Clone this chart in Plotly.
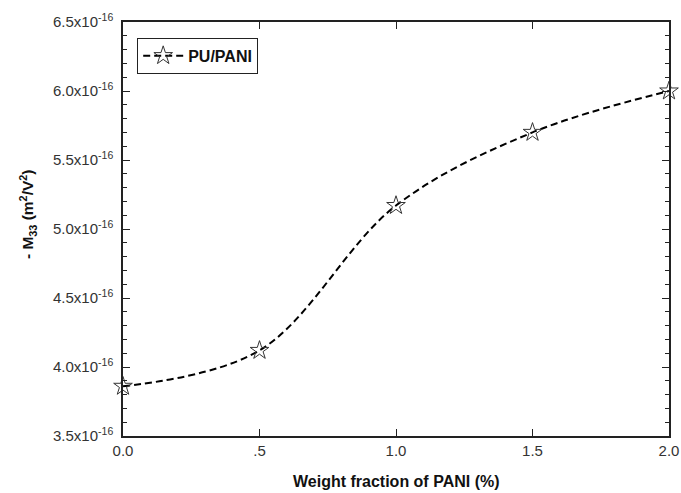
import plotly.graph_objects as go

weight_fraction = [0.0, 0.5, 1.0, 1.5, 2.0]
m33 = [3.86e-16, 4.12e-16, 5.17e-16, 5.70e-16, 6.00e-16]

y_tickvals = [3.5e-16, 4.0e-16, 4.5e-16, 5.0e-16, 5.5e-16, 6.0e-16, 6.5e-16]
y_ticktext = ["3.5x10<sup>-16</sup>", "4.0x10<sup>-16</sup>", "4.5x10<sup>-16</sup>",
              "5.0x10<sup>-16</sup>", "5.5x10<sup>-16</sup>", "6.0x10<sup>-16</sup>",
              "6.5x10<sup>-16</sup>"]
x_tickvals = [0.0, 0.5, 1.0, 1.5, 2.0]
x_ticktext = ["0.0", ".5", "1.0", "1.5", "2.0"]

fig = go.Figure()
fig.add_trace(go.Scatter(
    x=weight_fraction, y=m33, mode="lines+markers", name="<b>PU/PANI</b>",
    line=dict(color="black", width=2, dash="7px,4px", shape="spline", smoothing=1.0),
    marker=dict(symbol="star-open", size=14, color="#333333", line=dict(width=1)),
    cliponaxis=False,
))

font_family = "Liberation Sans, Arial, sans-serif"
fig.update_layout(
    width=681, height=493,
    margin=dict(l=123, r=12, t=22, b=57),
    paper_bgcolor="white", plot_bgcolor="white",
    font=dict(family=font_family, size=14, color="#222222"),
    showlegend=True,
    legend=dict(x=0.026, y=0.962, xanchor="left", yanchor="top",
                bordercolor="#222222", borderwidth=1, bgcolor="white",
                itemwidth=40, tracegroupgap=0,
                font=dict(size=16, color="#111111")),
    xaxis=dict(
        range=[0, 2.0], tickvals=x_tickvals, ticktext=x_ticktext,
        ticks="inside", ticklen=7, tickwidth=1, tickcolor="#222222",
        showline=True, linecolor="#222222", linewidth=1.5, mirror="allticks",
        showgrid=False, zeroline=False, automargin=False,
        tickfont=dict(size=15, color="#333333"),
    ),
    yaxis=dict(
        range=[3.5e-16, 6.5e-16], tickvals=y_tickvals, ticktext=y_ticktext,
        ticks="inside", ticklen=7, tickwidth=1, tickcolor="#222222",
        minor=dict(ticks="inside", ticklen=4, dtick=0.1e-16, tick0=3.5e-16,
                   tickcolor="#222222", showgrid=False),
        showline=True, linecolor="#222222", linewidth=1.5, mirror="allticks",
        showgrid=False, zeroline=False, automargin=False,
        ticklabelstandoff=5,
        tickfont=dict(size=15, color="#333333"),
    ),
    annotations=[
        dict(text="<b>Weight fraction of PANI (%)</b>", xref="paper", yref="paper",
             x=0.5, y=-0.109, xanchor="center", yanchor="middle", showarrow=False,
             font=dict(size=16, color="#111111")),
        dict(text="<b>- M<sub>33</sub> (m<sup>2</sup>/V<sup>2</sup>)</b>", xref="paper", yref="paper",
             x=-0.174, y=0.536, xanchor="center", yanchor="middle", showarrow=False,
             textangle=-90, font=dict(size=15.5, color="#111111")),
    ],
)

fig.write_html("out.html", config={"displayModeBar": False},
               post_script="document.body.style.margin='0';document.body.style.overflow='hidden';")
